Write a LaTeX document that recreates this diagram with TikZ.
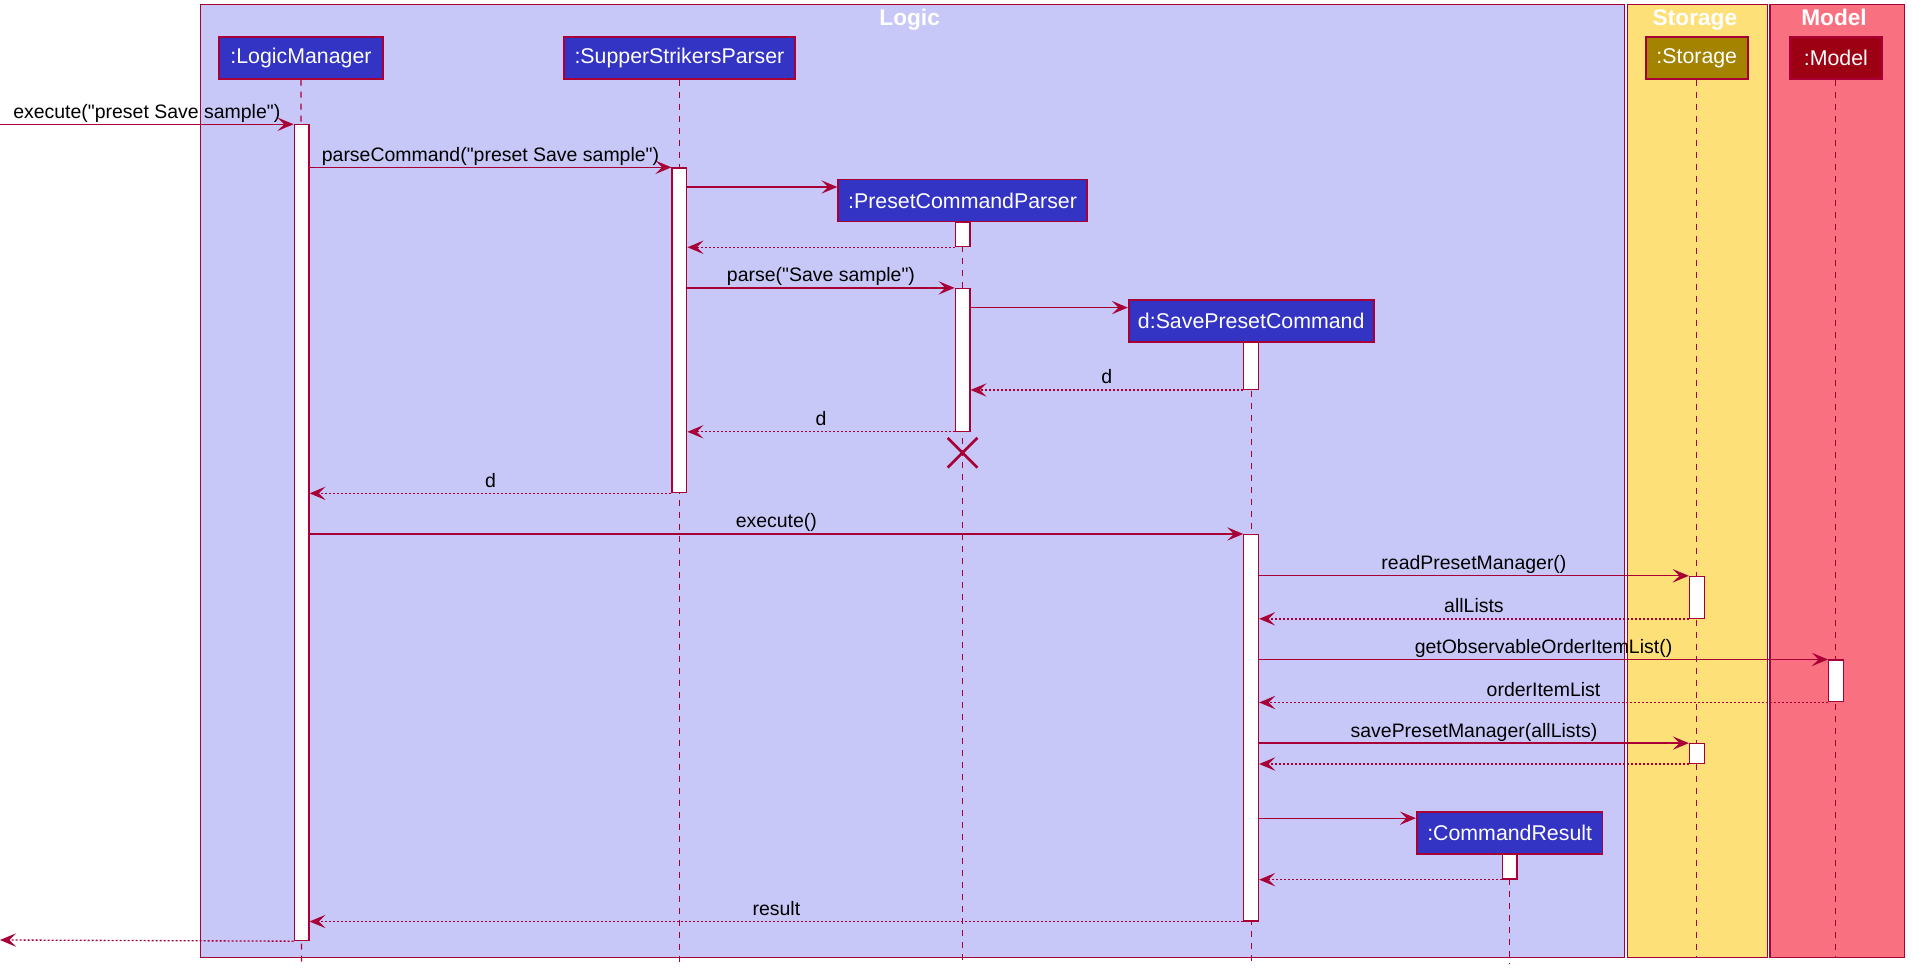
\documentclass[tikz,border=0pt]{standalone}
\usepackage{fontspec}
\setmainfont{Liberation Sans}[Ligatures=TeXOff]
\usetikzlibrary{arrows.meta,shapes.misc}
\definecolor{lc}{HTML}{A80036}
\definecolor{logicbg}{HTML}{C8C8F8}
\definecolor{storagebg}{HTML}{FEE078}
\definecolor{modelbg}{HTML}{F97181}
\definecolor{logicpart}{HTML}{3333C4}
\definecolor{storagepart}{HTML}{A38300}
\definecolor{modelpart}{HTML}{9D0012}
\newdimen\ux \ux=0.9232pt
\newdimen\uy \uy=0.9228pt
\begin{document}
\begin{tikzpicture}[x=0.9232pt,y=-0.9228pt,
  group/.style={draw=lc, line width=0.8pt},
  gtitle/.style={text=white, font=\fontsize{17}{20}\selectfont\bfseries, anchor=base, inner sep=0pt},
  part/.style={draw=lc, line width=1.3pt, text=white, font=\fontsize{16}{19}\selectfont, minimum height={34*\uy}, inner sep=0pt},
  act/.style={draw=lc, fill=white, line width=0.9pt, minimum width={12*\ux}, inner sep=0pt, anchor=north},
  life/.style={draw=lc, line width=0.9pt, dash pattern=on 4.5pt off 4.5pt},
  msg/.style={draw=lc, line width=1pt, -{Stealth[length=12pt, width=10pt, inset=5pt]}},
  ret/.style={msg, dash pattern=on 1.5pt off 1.5pt},
  lbl/.style={midway, anchor=base, yshift=4.5pt, inner sep=0pt, text=black, font=\fontsize{14.6}{17}\selectfont},
]
\useasboundingbox (0,0) rectangle (1568,790);
% groups
\path[group, fill=logicbg] (163,4) rectangle (1320,778);
\path[group, fill=storagebg] (1322,4) rectangle (1436,778);
\path[group, fill=modelbg] (1438,4) rectangle (1547,778);
\node[gtitle] (tLogic) at (739,21) {Logic};
\node[gtitle] (tStorage) at (1377,21) {Storage};
\node[gtitle] (tModel) at (1490,21) {Model};

% participants
\node[part, fill=logicpart, minimum width={133*\ux}] (lm) at (244.5,47) {:LogicManager};
\node[part, fill=logicpart, minimum width={188*\ux}] (ssp) at (552,47) {:SupperStrikersParser};
\node[part, fill=logicpart, minimum width={202*\ux}] (pcp) at (782,163) {:PresetCommandParser};
\node[part, fill=logicpart, minimum width={199*\ux}] (spc) at (1016.5,261) {d:SavePresetCommand};
\node[part, fill=logicpart, minimum width={151*\ux}] (cr) at (1226.5,677) {:CommandResult};
\node[part, fill=storagepart, minimum width={83*\ux}] (st) at (1378.5,47) {:Storage};
\node[part, fill=modelpart, minimum width={75*\ux}] (mo) at (1491.5,47) {:Model};

% lifeline ends
\coordinate (lmEnd) at (245,783);
\coordinate (sspEnd) at (552,783);
\coordinate (pcpEnd) at (782,783);
\coordinate (spcEnd) at (1016.5,783);
\coordinate (crEnd) at (1226.5,783);
\coordinate (stEnd) at (1378.5,778);
\coordinate (moEnd) at (1491.5,778);

\draw[life] (lm.south) -- (lmEnd);
\draw[life] (ssp.south) -- (sspEnd);
\draw[life] (pcp.south) -- (pcpEnd);
\draw[life] (spc.south) -- (spcEnd);
\draw[life] (cr.south) -- (crEnd);
\draw[life] (st.south) -- (stEnd);
\draw[life] (mo.south) -- (moEnd);

% activations
\node[act, minimum height={663*\uy}] (lmA) at (245,101) {};
\node[act, minimum height={264*\uy}] (sspA) at (552,136) {};
\node[act, minimum height={20*\uy}] (pcpA1) at (782,180) {};
\node[act, minimum height={116*\uy}] (pcpA2) at (782,234) {};
\node[act, minimum height={38*\uy}] (spcA1) at (1016.5,278) {};
\node[act, minimum height={314*\uy}] (spcA2) at (1016.5,434) {};
\node[act, minimum height={34*\uy}] (stA1) at (1378.5,468) {};
\node[act, minimum height={16*\uy}] (stA2) at (1378.5,604) {};
\node[act, minimum height={34*\uy}] (moA) at (1491.5,536) {};
\node[act, minimum height={20*\uy}] (crA) at (1226.5,694) {};

% destroy
\node[draw=lc, cross out, line width=2pt, minimum size={22*\ux}, inner sep=0pt] (pcpX) at (782,368) {};

% messages
\coordinate (inP) at (0,101);
\coordinate (outP) at (0,764);
\draw[msg] (inP) -- (lmA.north west) node[lbl] {execute("preset Save sample")};
\draw[msg] (lmA.east |- 0,136) -- (sspA.north west) node[lbl] {parseCommand("preset Save sample")};
\draw[msg] (sspA.east |- 0,152) -- (pcp.west |- 0,152);
\draw[ret] (pcpA1.south west) -- (sspA.east |- pcpA1.south);
\draw[msg] (sspA.east |- 0,234) -- (pcpA2.north west) node[lbl] {parse("Save sample")};
\draw[msg] (pcpA2.east |- 0,250) -- (spc.west |- 0,250);
\draw[ret] (spcA1.south west) -- (pcpA2.east |- spcA1.south) node[lbl] {d};
\draw[ret] (pcpA2.south west) -- (sspA.east |- pcpA2.south) node[lbl] {d};
\draw[ret] (sspA.south west) -- (lmA.east |- sspA.south) node[lbl] {d};
\draw[msg] (lmA.east |- 0,434) -- (spcA2.north west) node[lbl] {execute()};
\draw[msg] (spcA2.east |- 0,468) -- (stA1.north west) node[lbl] {readPresetManager()};
\draw[ret] (stA1.south west) -- (spcA2.east |- stA1.south) node[lbl] {allLists};
\draw[msg] (spcA2.east |- 0,536) -- (moA.north west) node[lbl] {getObservableOrderItemList()};
\draw[ret] (moA.south west) -- (spcA2.east |- moA.south) node[lbl] {orderItemList};
\draw[msg] (spcA2.east |- 0,604) -- (stA2.north west) node[lbl] {savePresetManager(allLists)};
\draw[ret] (stA2.south west) -- (spcA2.east |- stA2.south);
\draw[msg] (spcA2.east |- 0,665) -- (cr.west |- 0,665);
\draw[ret] (crA.south west) -- (spcA2.east |- crA.south);
\draw[ret] (spcA2.south west) -- (lmA.east |- spcA2.south) node[lbl] {result};
\draw[ret] (lmA.south west) -- (outP);
\end{tikzpicture}
\end{document}
